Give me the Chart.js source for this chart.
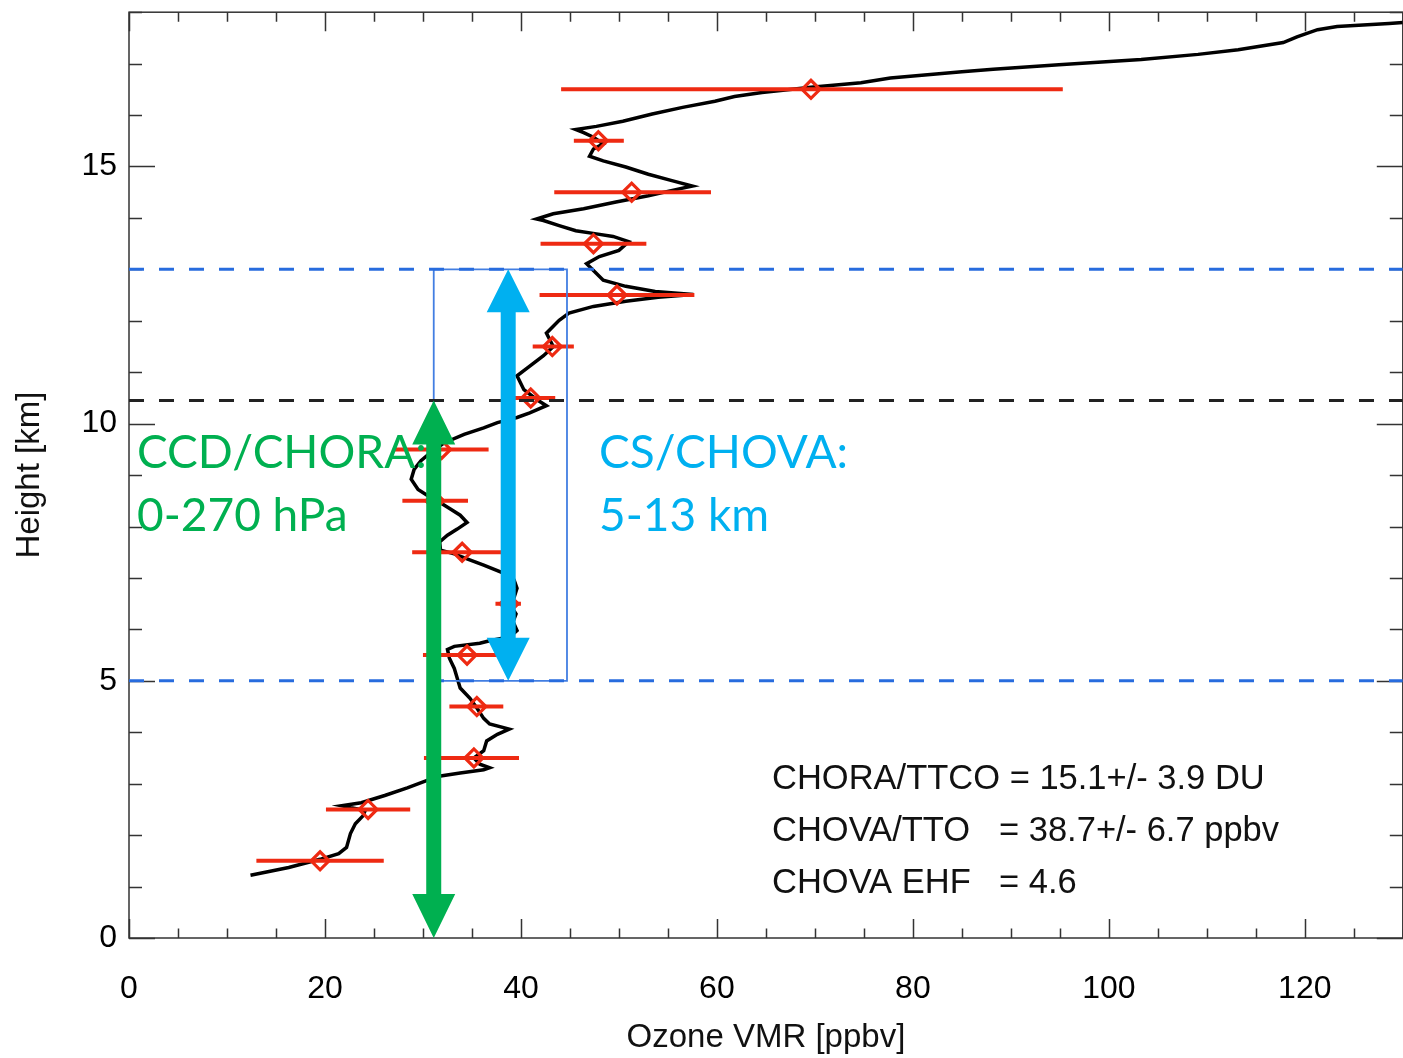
<!DOCTYPE html>
<html>
<head>
<meta charset="utf-8">
<script src="https://cdn.jsdelivr.net/npm/chart.js@4.4.1/dist/chart.umd.min.js"></script>
<style>
  html, body { margin: 0; padding: 0; background: #ffffff; overflow: hidden; }
  #wrap { width: 1415px; height: 1058px; }
</style>
</head>
<body>
<div id="wrap"><canvas id="chart" width="1415" height="1058"></canvas></div>
<script>
// Ozonesonde profile: volume mixing ratio (ppbv) against height (km)
const profileVmr = [
  12.4, 16.3, 19.5, 21.4, 22.2, 22.6, 23.1, 23.9, 24.1, 21.7,
  23.7, 26.1, 28.4, 30.5, 31.8, 33.8, 36.2, 36.8, 35.8, 35.2,
  36.2, 36.5, 37.6, 38.8, 36.8, 36.2, 35.5, 34.8, 33.8, 33.5,
  33.2, 32.7, 32.5, 33.2, 35.8, 36.8, 38.9, 39.6, 39.2, 39.5,
  39.0, 39.3, 39.6, 39.3, 37.9, 36.2, 34.5, 33.2, 31.8, 31.7,
  32.5, 33.5, 34.5, 33.8, 32.8, 31.7, 30.5, 29.5, 28.8, 29.1,
  29.8, 30.8, 32.2, 34.2, 36.2, 37.6, 39.6, 40.9, 42.6, 41.6,
  40.3, 39.6, 40.9, 42.3, 43.3, 42.6, 43.9, 44.9, 47.4, 50.7,
  54.0, 57.6, 53.7, 50.7, 48.4, 47.4, 46.7, 48.0, 50.0, 51.0,
  49.4, 47.7, 45.6, 43.9, 42.3, 41.6, 43.3, 46.4, 49.7, 53.0,
  55.8, 57.5, 55.5, 53.0, 50.7, 48.4, 47.0, 47.4, 48.4, 47.4,
  46.4, 45.6, 47.7, 50.4, 53.4, 56.5, 59.8, 61.8, 64.6, 69.6,
  74.7, 77.7, 85.0, 88.2, 94.9, 103.3, 109.1, 113.2, 117.8, 119.2,
  121.3, 123.3, 128.6, 130.0
];
const profileHeight = [
  1.22, 1.37, 1.53, 1.64, 1.76, 2.03, 2.22, 2.38, 2.48, 2.57,
  2.63, 2.77, 2.92, 3.07, 3.15, 3.21, 3.27, 3.31, 3.38, 3.50,
  3.64, 3.83, 3.96, 4.06, 4.16, 4.27, 4.47, 4.66, 4.86, 5.05,
  5.24, 5.44, 5.61, 5.67, 5.73, 5.78, 5.86, 5.98, 6.15, 6.30,
  6.45, 6.62, 6.80, 6.96, 7.12, 7.25, 7.37, 7.47, 7.54, 7.70,
  7.83, 7.95, 8.08, 8.22, 8.34, 8.47, 8.60, 8.72, 8.92, 9.11,
  9.28, 9.44, 9.63, 9.79, 9.92, 10.02, 10.12, 10.21, 10.35, 10.47,
  10.66, 10.93, 11.12, 11.32, 11.50, 11.76, 12.01, 12.15, 12.28, 12.38,
  12.46, 12.51, 12.57, 12.67, 12.79, 12.98, 13.11, 13.25, 13.37, 13.54,
  13.64, 13.69, 13.75, 13.85, 13.95, 13.98, 14.08, 14.18, 14.31, 14.43,
  14.55, 14.62, 14.72, 14.85, 14.99, 15.11, 15.20, 15.34, 15.44, 15.57,
  15.66, 15.72, 15.78, 15.88, 16.02, 16.15, 16.27, 16.36, 16.44, 16.54,
  16.63, 16.72, 16.84, 16.89, 16.98, 17.08, 17.18, 17.27, 17.41, 17.52,
  17.66, 17.72, 17.78, 17.80
];

// 1-km layer means with their ranges (ppbv)
const layerHeight = [1.5, 2.5, 3.5, 4.5, 5.5, 6.5, 7.5, 8.5, 9.5, 10.5, 11.5, 12.5, 13.5, 14.5, 15.5, 16.5];
const layerVmr    = [19.5, 24.4, 35.2, 35.5, 34.5, 38.8, 34.0, 31.2, 31.9, 41.0, 43.2, 49.8, 47.4, 51.3, 47.9, 69.6];
const layerLow    = [13.0, 20.1, 30.1, 32.7, 30.0, 37.4, 28.9, 27.9, 27.1, 38.5, 41.2, 41.9, 42.0, 43.4, 45.4, 44.1];
const layerHigh   = [26.0, 28.7, 39.8, 38.2, 39.0, 40.0, 39.1, 34.6, 36.7, 43.5, 45.4, 57.7, 52.8, 59.4, 50.5, 95.3];

// Reference levels (km)
const csLevels = [5, 13];          // CS/CHOVA column limits
const tropopauseHeight = 10.45;    // 270 hPa level

// CHOVA box (ppbv range x km range)
const boxVmr = [31.1, 44.7];
const boxHeight = [5, 13];

// Arrows: [vmr position, bottom km, top km]
const choraArrow = [31.1, 0, 10.45];
const chovaArrow = [38.7, 5, 13];

// Axis ranges and ticks
const xRange = [0, 130];
const yRange = [0, 18];
const xMajorStep = 20, xMinorStep = 5;
const yMajorStep = 5, yMinorStep = 1;

// Text
const choraLabel = ['CCD/CHORA:', '0-270 hPa'];
const chovaLabel = ['CS/CHOVA:', '5-13 km'];
const statsLabels = [
  ['CHORA/TTCO = 15.1+/- 3.9 DU', ''],
  ['CHOVA/TTO', '= 38.7+/- 6.7 ppbv'],
  ['CHOVA EHF', '= 4.6']
];

const RED = 'rgb(238,42,18)';
const GREEN = '#00B050';
const CYAN = '#00B0F0';
const DASH_BLUE = 'rgb(40,108,222)';
const BOX_BLUE = 'rgb(66,126,226)';
const AXIS = '#333333';
const LABEL_FONT = '"Liberation Sans", Arial, Helvetica, sans-serif';
const NOTE_FONT = 'Lato, "Open Sans", sans-serif';

const profilePoints = profileVmr.map((v, i) => ({ x: v, y: profileHeight[i] }));
const layerPoints = layerVmr.map((v, i) => ({ x: v, y: layerHeight[i] }));
const errorSegments = [];
layerHeight.forEach((h, i) => {
  errorSegments.push({ x: layerLow[i], y: h }, { x: layerHigh[i], y: h }, { x: null, y: null });
});
const boxPoints = [
  { x: boxVmr[0], y: boxHeight[1] }, { x: boxVmr[0], y: boxHeight[0] },
  { x: boxVmr[1], y: boxHeight[0] }, { x: boxVmr[1], y: boxHeight[1] },
  { x: boxVmr[0], y: boxHeight[1] }
];
const hLine = (h) => [{ x: xRange[0], y: h }, { x: xRange[1], y: h }];

// Frame with inward tick marks on all four sides
const framePlugin = {
  id: 'frame',
  beforeDatasetsDraw(chart) {
    const { ctx, chartArea: a, scales: { x, y } } = chart;
    ctx.save();
    ctx.strokeStyle = AXIS;
    ctx.lineWidth = 1.5;
    ctx.strokeRect(a.left, a.top, a.right - a.left, a.bottom - a.top);
    ctx.beginPath();
    for (let v = xRange[0]; v <= xRange[1] + 1e-6; v += xMinorStep) {
      const px = Math.round(x.getPixelForValue(v)) + 0.5;
      const len = (v % xMajorStep === 0) ? 19 : 9.5;
      ctx.moveTo(px, a.bottom); ctx.lineTo(px, a.bottom - len);
      ctx.moveTo(px, a.top); ctx.lineTo(px, a.top + len);
    }
    for (let v = yRange[0]; v <= yRange[1] + 1e-6; v += yMinorStep) {
      const py = Math.round(y.getPixelForValue(v)) + 0.5;
      const len = (v % yMajorStep === 0) ? 26 : 13;
      ctx.moveTo(a.left, py); ctx.lineTo(a.left + len, py);
      ctx.moveTo(a.right, py); ctx.lineTo(a.right - len, py);
    }
    ctx.stroke();
    ctx.restore();
  }
};

function doubleArrow(ctx, cx, yTop, yBottom, shaft, headW, headL, color) {
  ctx.fillStyle = color;
  ctx.beginPath();
  ctx.moveTo(cx, yTop);
  ctx.lineTo(cx + headW / 2, yTop + headL);
  ctx.lineTo(cx + shaft / 2, yTop + headL);
  ctx.lineTo(cx + shaft / 2, yBottom - headL);
  ctx.lineTo(cx + headW / 2, yBottom - headL);
  ctx.lineTo(cx, yBottom);
  ctx.lineTo(cx - headW / 2, yBottom - headL);
  ctx.lineTo(cx - shaft / 2, yBottom - headL);
  ctx.lineTo(cx - shaft / 2, yTop + headL);
  ctx.lineTo(cx - headW / 2, yTop + headL);
  ctx.closePath();
  ctx.fill();
}

// Arrows and text annotations on top of the data
const annotatePlugin = {
  id: 'annotate',
  afterDatasetsDraw(chart) {
    const { ctx, chartArea: a, scales: { x, y } } = chart;
    ctx.save();
    doubleArrow(ctx, x.getPixelForValue(choraArrow[0]), y.getPixelForValue(choraArrow[2]),
      y.getPixelForValue(choraArrow[1]), 15, 43, 44, GREEN);
    doubleArrow(ctx, x.getPixelForValue(chovaArrow[0]), y.getPixelForValue(chovaArrow[2]),
      y.getPixelForValue(chovaArrow[1]), 15, 43, 43, CYAN);

    ctx.textBaseline = 'alphabetic';
    ctx.textAlign = 'left';
    ctx.font = '46px ' + NOTE_FONT;
    ctx.fillStyle = GREEN;
    ctx.fillText(choraLabel[0], a.left + 8, a.top + 456);
    ctx.fillText(choraLabel[1], a.left + 8, a.top + 519);
    ctx.fillStyle = CYAN;
    ctx.fillText(chovaLabel[0], a.left + 470, a.top + 456);
    ctx.fillText(chovaLabel[1], a.left + 470, a.top + 519);

    ctx.font = '34.5px ' + LABEL_FONT;
    ctx.fillStyle = '#111111';
    statsLabels.forEach((pair, i) => {
      const base = a.top + 777 + i * 52;
      ctx.fillText(pair[0], a.left + 643, base);
      if (pair[1]) ctx.fillText(pair[1], a.left + 870, base);
    });
    ctx.restore();
  }
};

new Chart(document.getElementById('chart'), {
  type: 'scatter',
  data: {
    datasets: [
      { data: hLine(tropopauseHeight), showLine: true, borderColor: '#222222', borderWidth: 3,
        borderDash: [15, 15], pointRadius: 0, order: 1 },
      { data: hLine(csLevels[0]), showLine: true, borderColor: DASH_BLUE, borderWidth: 3,
        borderDash: [15, 15], pointRadius: 0, order: 1 },
      { data: hLine(csLevels[1]), showLine: true, borderColor: DASH_BLUE, borderWidth: 3,
        borderDash: [15, 15], pointRadius: 0, order: 1 },
      { data: boxPoints, showLine: true, borderColor: BOX_BLUE, borderWidth: 1.8,
        pointRadius: 0, order: 2 },
      { data: layerPoints, showLine: false, pointStyle: 'rectRot', pointRadius: 9,
        borderColor: RED, borderWidth: 3.2, backgroundColor: 'rgba(0,0,0,0)', order: 3 },
      { data: errorSegments, showLine: true, spanGaps: false, borderColor: RED, borderWidth: 4,
        pointRadius: 0, order: 4 },
      { data: profilePoints, showLine: true, borderColor: '#000000', borderWidth: 3.5,
        pointRadius: 0, tension: 0, order: 5 }
    ]
  },
  options: {
    responsive: false,
    animation: false,
    events: [],
    layout: { padding: { top: 8, right: 0, left: 0, bottom: 0 } },
    plugins: { legend: { display: false }, tooltip: { enabled: false } },
    scales: {
      x: {
        type: 'linear', min: xRange[0], max: xRange[1],
        afterFit(s) { s.height = 120; s.paddingLeft = 0; s.paddingRight = 0; },
        grid: { display: false, drawTicks: false },
        border: { display: false },
        ticks: { stepSize: xMajorStep, includeBounds: false, autoSkip: false, maxRotation: 0,
          padding: 32, color: '#000', font: { family: LABEL_FONT, size: 32 } },
        title: { display: true, text: 'Ozone VMR [ppbv]', color: '#111',
          font: { family: LABEL_FONT, size: 33 }, padding: { top: 0, bottom: 0 } }
      },
      y: {
        type: 'linear', min: yRange[0], max: yRange[1],
        afterFit(s) { s.width = 129; s.paddingTop = 0; s.paddingBottom = 0; },
        grid: { display: false, drawTicks: false },
        border: { display: false },
        ticks: { stepSize: yMajorStep, includeBounds: false, autoSkip: false,
          padding: 12, color: '#000', font: { family: LABEL_FONT, size: 32 } },
        title: { display: true, text: 'Height [km]', color: '#111',
          font: { family: LABEL_FONT, size: 33 }, padding: { top: 10, bottom: 0 } }
      }
    }
  },
  plugins: [framePlugin, annotatePlugin]
});
</script>
</body>
</html>
